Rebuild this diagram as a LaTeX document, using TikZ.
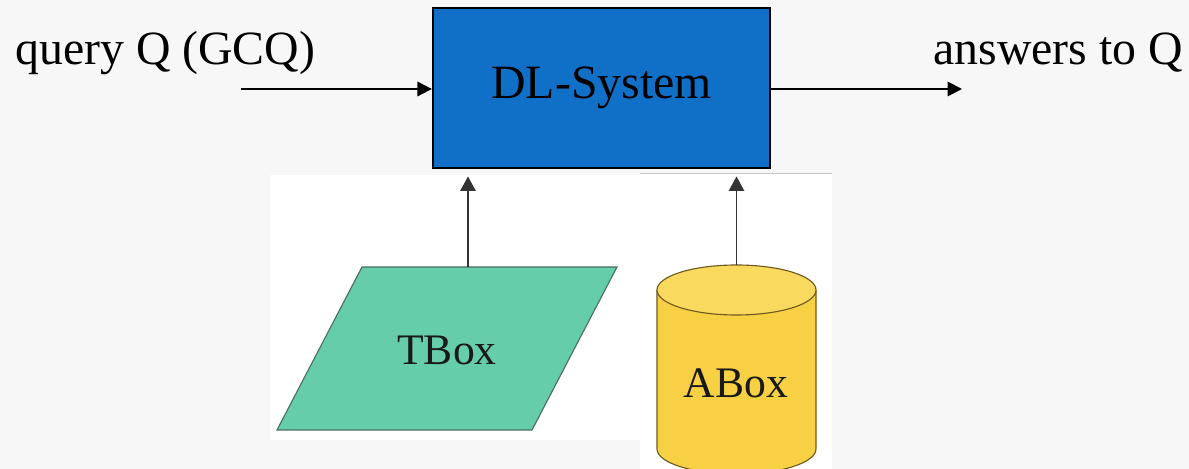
\documentclass[tikz,border=0pt]{standalone}
\usepackage{fontspec}
\setmainfont{Liberation Serif}
\usepackage{tikz}
\usetikzlibrary{arrows.meta,positioning,calc}
\definecolor{bgpaper}{HTML}{F7F7F7}
\definecolor{dlblue}{HTML}{1070C8}
\definecolor{tgreen}{HTML}{66CDAA}
\definecolor{tedge}{HTML}{4A6E60}
\definecolor{ayellow}{HTML}{F8D044}
\definecolor{ayellowtop}{HTML}{F9D95E}
\definecolor{aedge}{HTML}{6E5A1E}
\tikzset{
  % System box and outer labels
  sysbox/.style={draw=black,line width=1.8pt,fill=dlblue,minimum width=8.425cm,
                 minimum height=4cm,inner sep=0pt,font=\fontsize{34}{40}\selectfont},
  lbl/.style={inner sep=0pt,anchor=base west,font=\fontsize{34}{40}\selectfont},
  % Knowledge-base pictures
  kbtext/.style={inner sep=0pt,text=black!90,font=\fontsize{31}{36}\selectfont},
  tshape/.style={fill=tgreen,draw=tedge,line width=0.8pt},
  ashape/.style={fill=ayellow,draw=aedge,line width=0.8pt},
  ashapetop/.style={fill=ayellowtop,draw=aedge,line width=0.8pt},
  patch/.style={fill=white,draw=none},
  % Connectors
  fl/.style={-{Triangle[length=3.6mm,width=3.6mm]},black,line width=1.4pt},
  flup/.style={-{Triangle[length=3.6mm,width=3.8mm]},black!80,line width=1.3pt}
}

\begin{document}
\begin{tikzpicture}
  \useasboundingbox (0,0) rectangle (29.725,11.725);
  \fill[bgpaper] (0,0) rectangle (29.725,11.725);

  % --- Pasted picture patches ---
  \fill[patch] (6.75,0.725) rectangle (16.0,7.35);
  \fill[patch] (16.0,0) rectangle (20.8,7.4);
  \draw[black!22,line width=0.6pt] (16.0,7.4) -- (20.8,7.4);

  % --- Nodes ---
  \node[sysbox] (dl) at (15.04,9.525) {DL-System};
  \node[lbl] (query)   at (0.375,10.1)  {query Q (GCQ)};
  \node[lbl] (answers) at (23.325,10.1) {answers to Q};
  \coordinate (qin)  at (6.025,9.5);
  \coordinate (aout) at (24.05,9.5);

  % TBox (parallelogram)
  \draw[tshape] (9.05,5.05) -- (15.425,5.05) -- (13.3,0.975) -- (6.925,0.975) -- cycle;
  \node[kbtext] (tbox) at (11.175,2.975) {TBox};
  \coordinate (ttop) at (11.7,5.05);

  % ABox (cylinder)
  \fill[ayellow] (16.425,4.475) -- (16.425,0.5)
        arc[start angle=180,end angle=360,x radius=1.9875,y radius=0.625]
        -- (20.4,4.475) -- cycle;
  \draw[aedge,line width=0.8pt] (16.425,4.475) -- (16.425,0.5)
        arc[start angle=180,end angle=360,x radius=1.9875,y radius=0.625]
        -- (20.4,4.475);
  \draw[ashapetop] (18.4125,4.475) ellipse[x radius=1.9875,y radius=0.625];
  \node[kbtext] (abox) at (18.4,2.14) {ABox};
  \coordinate (atop) at (18.4125,5.1);

  % --- Connectors ---
  \draw[fl] (qin) -- (qin -| dl.west);
  \draw[fl] (dl.east |- aout) -- (aout);
  \draw[flup,shorten >=1.8mm] (ttop) -- (ttop |- dl.south);
  \draw[flup,shorten >=1.8mm] (atop) -- (atop |- dl.south);
\end{tikzpicture}
\end{document}
